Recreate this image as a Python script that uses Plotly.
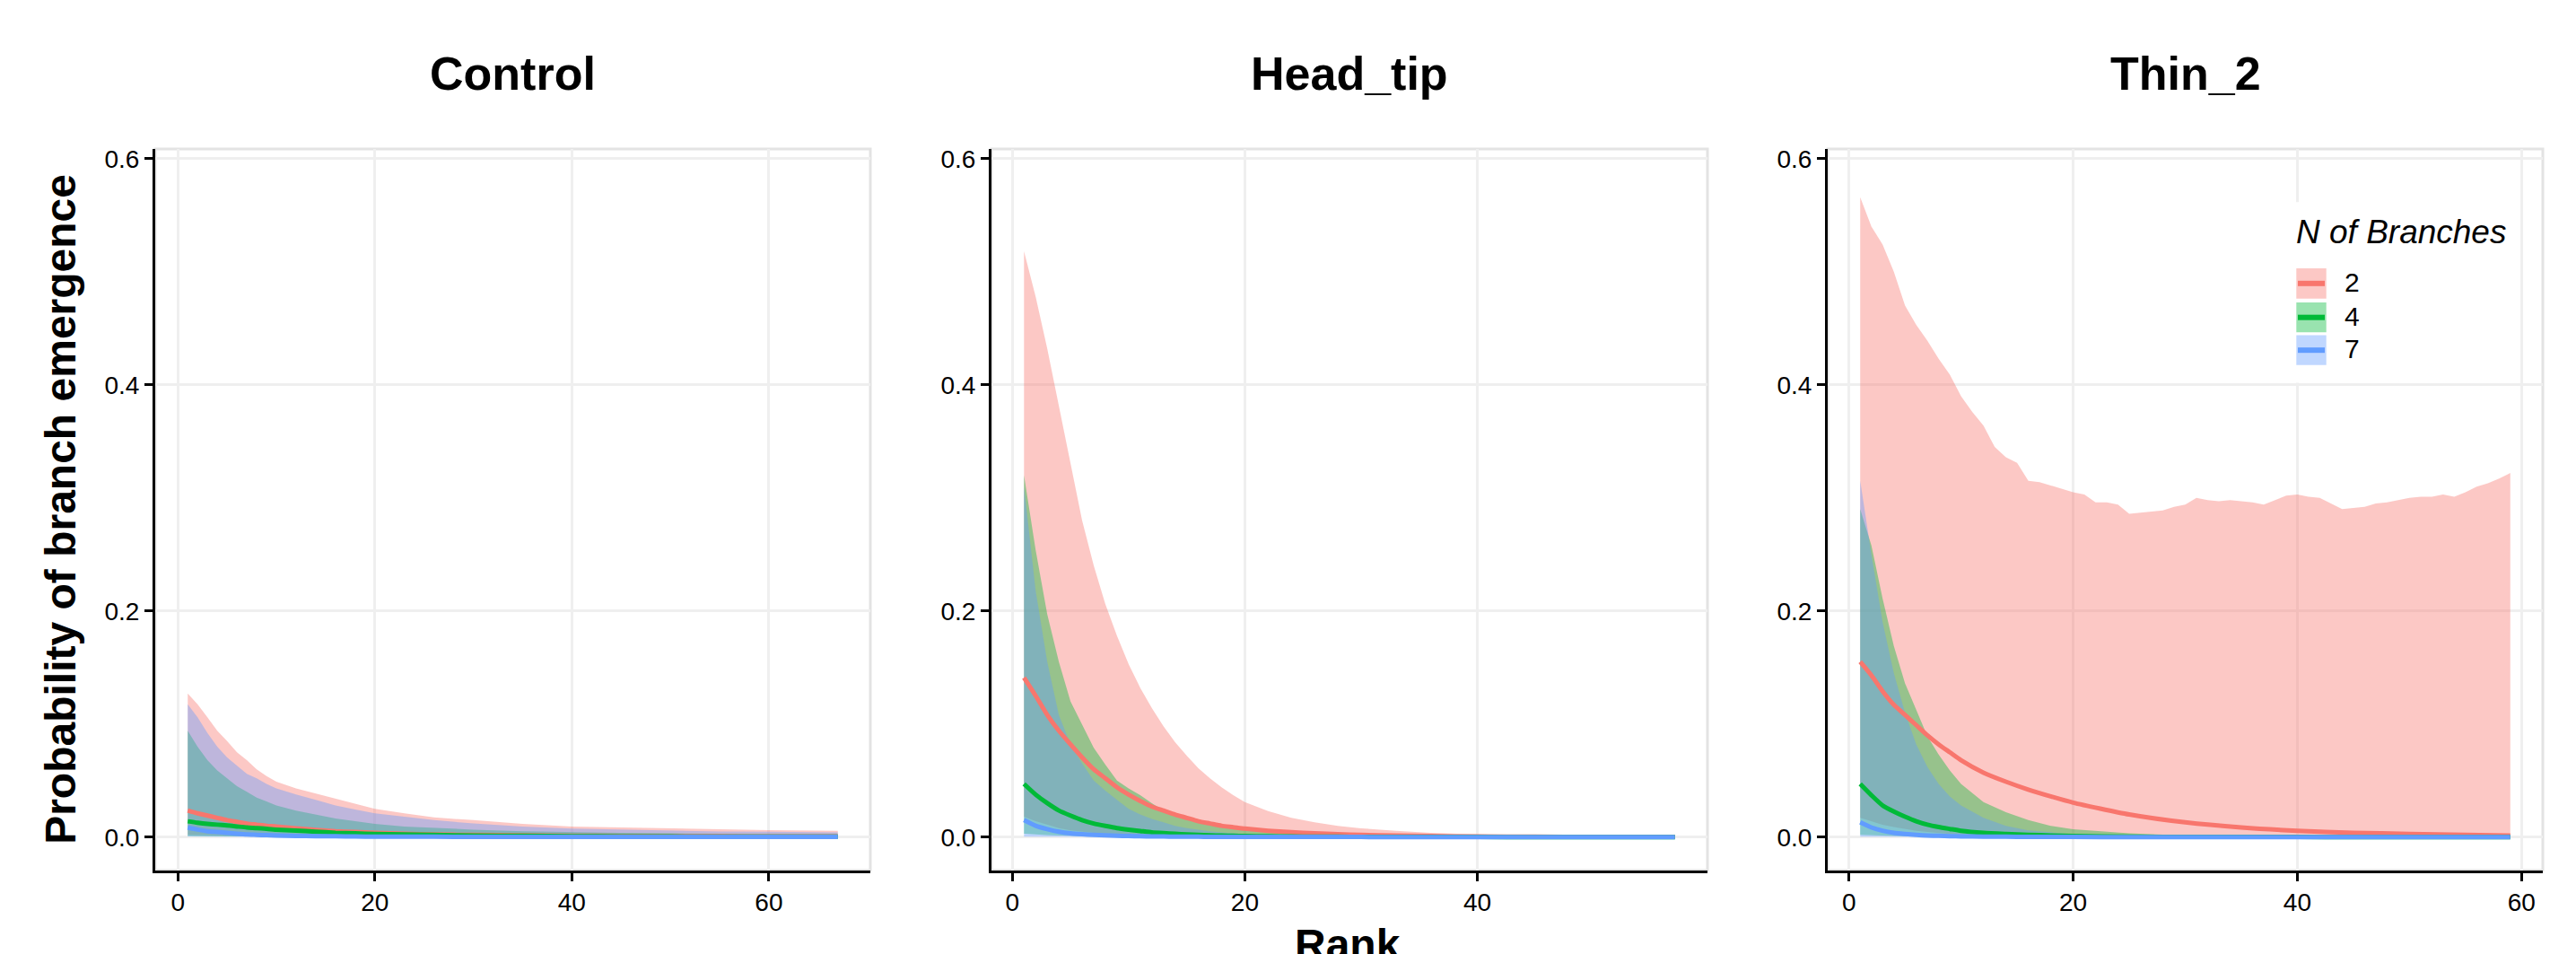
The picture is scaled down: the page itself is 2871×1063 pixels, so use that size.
import plotly.graph_objects as go

# ---------------- data ----------------
PANEL_TITLES = ["Control", "Head_tip", "Thin_2"]
GROUPS = ["2", "4", "7"]
LINE_COLORS = ["#F8766D", "#00BA38", "#619CFF"]
FILL_COLORS = ["rgba(248,118,109,0.4)", "rgba(0,186,56,0.4)", "rgba(97,156,255,0.4)"]
LEGEND_TITLE = "N of Branches"
X_TITLE = "Rank"
Y_TITLE = "Probability of branch emergence"
Y_TICKS = [0.0, 0.2, 0.4, 0.6]

# Control
CTRL_RANK = [1, 2, 3, 4, 5, 6, 7, 8, 9, 10, 12, 14, 16, 18, 20, 23, 26, 30, 35, 40, 45, 50, 55, 60, 67]
CTRL_MEAN_2 = [.0235, .021, .019, .017, .015, .0135, .012, .011, .010, .0094, .0078, .0064, .0052, .0045, .0038, .003, .0023, .0019, .0015, .0012, .001, .0008, .0007, .0006, .0005]
CTRL_MEAN_4 = [.014, .0127, .0117, .011, .0103, .0094, .0085, .008, .0073, .0066, .0057, .0048, .0038, .0033, .0028, .0023, .0019, .0014, .0011, .0008, .0006, .0005, .0004, .0004, .0003]
CTRL_MEAN_7 = [.0085, .0066, .0052, .0045, .0038, .003, .0023, .002, .0017, .0014, .001, .0008, .0007, .0005, .0004, .0003, .0003, .0002, .0002, .0001, .0001, .0001, .0001, .0001, .0001]
CTRL_UP_2 = [.127, .1175, .106, .094, .085, .075, .068, .060, .054, .049, .043, .0385, .034, .029, .025, .021, .0174, .015, .0117, .0094, .0085, .0075, .0066, .0061, .0056]
CTRL_UP_4 = [.094, .080, .068, .059, .052, .045, .040, .035, .0315, .028, .0235, .020, .0164, .014, .0117, .0094, .008, .0066, .0052, .0042, .0037, .0033, .003, .0028, .0023]
CTRL_UP_7 = [.1175, .106, .092, .080, .0705, .063, .056, .052, .047, .043, .0376, .033, .028, .0244, .021, .018, .015, .012, .0094, .0075, .0065, .0056, .005, .0047, .0042]
CTRL_LO_2 = [.002, .0018, .0016, .0014, .0012, .001, .0009, .0008, .0007, .0006, .0005, .0004, .0003, .0003, .0002, .0002, .0001, .0001, .0001, 0, 0, 0, 0, 0, 0]
CTRL_LO_4 = [.001, .0009, .0008, .0007, .0006, .0005, .0005, .0004, .0004, .0003, .0003, .0002, .0002, .0002, .0001, .0001, .0001, .0001, 0, 0, 0, 0, 0, 0, 0]
CTRL_LO_7 = [.0005, .0004, .0003, .0003, .0002, .0002, .0001, .0001, .0001, .0001, 0, 0, 0, 0, 0, 0, 0, 0, 0, 0, 0, 0, 0, 0, 0]

# Head_tip
HEAD_RANK = [1, 2, 3, 4, 5, 6, 7, 8, 9, 10, 11, 12, 13, 14, 15, 16, 17, 18, 19, 20, 22, 24, 26, 28, 30, 33, 36, 40, 45, 50, 57]
HEAD_MEAN_2 = [.141, .125, .108, .094, .082, .0705, .060, .052, .044, .0376, .032, .027, .0235, .020, .017, .014, .012, .010, .0088, .0075, .0056, .0043, .0033, .0025, .0019, .0013, .0009, .0005, .0003, .0002, .0001]
HEAD_MEAN_4 = [.047, .0376, .030, .0235, .019, .015, .012, .0099, .008, .0066, .0054, .0042, .0035, .0029, .0023, .0019, .0016, .0013, .0011, .0009, .0007, .0005, .0004, .0003, .0002, .0001, .0001, .0001, 0, 0, 0]
HEAD_MEAN_7 = [.015, .010, .007, .0047, .0033, .0025, .0019, .0015, .0012, .0009, .0007, .0006, .0005, .0004, .0003, .0003, .0002, .0002, .0002, .0001, .0001, .0001, .0001, .0001, .0001, 0, 0, 0, 0, 0, 0]
HEAD_UP_2 = [.518, .478, .432, .382, .330, .280, .240, .206, .178, .153, .132, .114, .098, .084, .072, .061, .052, .044, .037, .031, .023, .017, .013, .010, .0078, .0055, .0038, .0023, .0014, .0008, .0004]
HEAD_UP_4 = [.320, .254, .197, .155, .120, .099, .079, .064, .050, .043, .037, .030, .0235, .020, .017, .014, .012, .0094, .008, .007, .005, .0035, .0025, .0018, .0013, .0008, .0005, .0003, .0002, .0001, .0001]
HEAD_UP_7 = [.310, .218, .155, .108, .082, .065, .050, .041, .033, .025, .020, .016, .013, .010, .008, .0065, .0052, .0042, .0034, .0028, .0019, .0013, .0009, .0006, .0004, .0003, .0002, .0001, .0001, .0001, .0001]
HEAD_LO_2 = [.018, .014, .011, .008, .006, .0045, .0035, .0025, .0019, .0014, .0011, .0008, .0006, .0005, .0004, .0003, .0002, .0002, .0001, .0001, 0, 0, 0, 0, 0, 0, 0, 0, 0, 0, 0]
HEAD_LO_4 = [.003, .0024, .0018, .0013, .001, .0008, .0006, .0005, .0004, .0003, .0002, .0002, .0001, 0, 0, 0, 0, 0, 0, 0, 0, 0, 0, 0, 0, 0, 0, 0, 0, 0, 0]
HEAD_LO_7 = [.0004, .0003, .0002, .0001, 0, 0, 0, 0, 0, 0, 0, 0, 0, 0, 0, 0, 0, 0, 0, 0, 0, 0, 0, 0, 0, 0, 0, 0, 0, 0, 0]

# Thin_2
THIN_RANK = [1, 2, 3, 4, 5, 6, 7, 8, 9, 10, 12, 14, 16, 18, 20, 25, 30, 35, 40, 45, 50, 55, 59]
THIN_MEAN_2 = [.155, .143, .129, .117, .108, .099, .090, .082, .075, .068, .057, .049, .042, .036, .0305, .020, .013, .0085, .0056, .0038, .0028, .0019, .0014]
THIN_MEAN_4 = [.047, .037, .028, .0226, .018, .014, .011, .0089, .0072, .0056, .0038, .0028, .002, .0014, .0009, .0004, .0002, .0001, .0001, 0, 0, 0, 0]
THIN_MEAN_7 = [.013, .0085, .0056, .0038, .0028, .002, .0014, .0011, .0008, .0006, .0004, .0003, .0002, .0001, .0001, 0, 0, 0, 0, 0, 0, 0, 0]
THIN_UP_4 = [.290, .258, .211, .169, .136, .113, .089, .073, .059, .047, .031, .022, .015, .010, .007, .0033, .0014, .0008, .0004, .0003, .0002, .0001, .0001]
THIN_UP_7 = [.315, .25, .19, .145, .11, .082, .062, .047, .036, .028, .017, .010, .006, .004, .0025, .001, .0005, .0003, .0002, .0001, .0001, .0001, .0001]
THIN_LO_4 = [.002, .0016, .0012, .0009, .0007, .0005, .0004, .0003, .0002, .0002, .0001, .0001, 0, 0, 0, 0, 0, 0, 0, 0, 0, 0, 0]
THIN_LO_7 = [.0003, .0002, .0001, 0, 0, 0, 0, 0, 0, 0, 0, 0, 0, 0, 0, 0, 0, 0, 0, 0, 0, 0, 0]
THIN_RED_RANK = list(range(1, 60))
THIN_UP_2 = [.566, .540, .524, .500, .470, .453, .439, .423, .409, .390,
             .376, .364, .345, .336, .331, .315, .314, .311, .308, .305,
             .303, .296, .296, .294, .286, .287, .288, .289, .292, .294,
             .300, .298, .297, .298, .297, .296, .294, .298, .302, .303,
             .301, .300, .295, .290, .291, .292, .295, .296, .298, .300,
             .301, .301, .303, .301, .305, .310, .313, .317, .322]
THIN_LO_2 = [.017, .014, .011, .009, .007, .0055, .0045, .0035, .0028, .0023,
             .0019, .0016, .0013, .0011, .0009, .0008, .0006, .0005, .0004, .0003,
             .0003, .0002, .0002, .0002, .0002, .0001, .0001, .0001, .0001, .0001,
             .0001, .0001, .0001, .0001, .0001, 0, 0, 0, 0, 0,
             0, 0, 0, 0, 0, 0, 0, 0, 0, 0,
             0, 0, 0, 0, 0, 0, 0, 0, 0]

X_RANGES = [[-2.3, 70.3], [-1.8, 59.8], [-1.9, 61.9]]
Y_RANGE = [-0.0293, 0.6085]

# ---------------- layout geometry (pixels) ----------------
W, H = 2871, 1063
def px(x):
    return x / W
def py(y):
    return 1 - y / H

PANEL_X = [(173, 970), (1105, 1903), (2037, 2834)]
PANEL_TOP, PANEL_BOTTOM = 162.7, 969.3
FONT = "Liberation Sans, Arial, Helvetica, sans-serif"

panels = [
    dict(ribbons=[(CTRL_RANK, CTRL_LO_2, CTRL_UP_2), (CTRL_RANK, CTRL_LO_4, CTRL_UP_4), (CTRL_RANK, CTRL_LO_7, CTRL_UP_7)],
         lines=[(CTRL_RANK, CTRL_MEAN_2), (CTRL_RANK, CTRL_MEAN_4), (CTRL_RANK, CTRL_MEAN_7)]),
    dict(ribbons=[(HEAD_RANK, HEAD_LO_2, HEAD_UP_2), (HEAD_RANK, HEAD_LO_4, HEAD_UP_4), (HEAD_RANK, HEAD_LO_7, HEAD_UP_7)],
         lines=[(HEAD_RANK, HEAD_MEAN_2), (HEAD_RANK, HEAD_MEAN_4), (HEAD_RANK, HEAD_MEAN_7)]),
    dict(ribbons=[(THIN_RED_RANK, THIN_LO_2, THIN_UP_2), (THIN_RANK, THIN_LO_4, THIN_UP_4), (THIN_RANK, THIN_LO_7, THIN_UP_7)],
         lines=[(THIN_RANK, THIN_MEAN_2), (THIN_RANK, THIN_MEAN_4), (THIN_RANK, THIN_MEAN_7)]),
]

fig = go.Figure()

for i, p in enumerate(panels):
    xa = "x" if i == 0 else f"x{i+1}"
    ya = "y" if i == 0 else f"y{i+1}"
    for g, (r, lo, up) in enumerate(p["ribbons"]):
        fig.add_trace(go.Scatter(
            x=list(r) + list(r)[::-1], y=list(up) + list(lo)[::-1],
            fill="toself", fillcolor=FILL_COLORS[g], line=dict(width=0),
            mode="lines", hoverinfo="skip", showlegend=False, xaxis=xa, yaxis=ya))
    for g, (r, m) in enumerate(p["lines"]):
        fig.add_trace(go.Scatter(
            x=r, y=m, mode="lines", name=GROUPS[g],
            line=dict(color=LINE_COLORS[g], width=5, shape="spline", smoothing=0.6),
            showlegend=False, xaxis=xa, yaxis=ya))

axis_common = dict(
    showgrid=True, gridcolor="#EFEFEF", gridwidth=3, zeroline=False,
    showline=True, linecolor="black", linewidth=3, mirror=False,
    ticks="outside", ticklen=9, tickwidth=3, tickcolor="black",
    tickfont=dict(family=FONT, size=28, color="black"),
)

layout = dict(
    width=W, height=H, margin=dict(l=0, r=0, t=0, b=0),
    paper_bgcolor="white", plot_bgcolor="white", showlegend=False,
)
shapes = []
annotations = []
for i in range(3):
    sfx = "" if i == 0 else str(i + 1)
    x0, x1 = PANEL_X[i]
    layout["xaxis" + sfx] = dict(
        axis_common, domain=[px(x0), px(x1)], range=X_RANGES[i],
        tickvals=[0, 20, 40, 60], tickformat="d", anchor="y" + sfx)
    layout["yaxis" + sfx] = dict(
        axis_common, domain=[py(PANEL_BOTTOM), py(PANEL_TOP)], range=Y_RANGE,
        tickvals=Y_TICKS, tickformat=".1f", anchor="x" + sfx)
    shapes.append(dict(type="rect", xref="paper", yref="paper",
                       x0=px(x0), x1=px(x1), y0=py(PANEL_BOTTOM), y1=py(PANEL_TOP),
                       line=dict(color="#E3E3E3", width=3), layer="below"))
    annotations.append(dict(text=PANEL_TITLES[i], xref="paper", yref="paper",
                            x=px((x0 + x1) / 2), y=py(78), xanchor="center", yanchor="middle",
                            showarrow=False, font=dict(family=FONT, size=52, color="black", weight="bold")))

annotations.append(dict(text=Y_TITLE, xref="paper", yref="paper", x=px(68),
                        y=py((PANEL_TOP + PANEL_BOTTOM) / 2), textangle=-90,
                        xanchor="center", yanchor="middle", showarrow=False,
                        font=dict(family=FONT, size=48, color="black", weight="bold")))
annotations.append(dict(text=X_TITLE, xref="paper", yref="paper", x=px(1502), y=py(1024),
                        xanchor="center", yanchor="top", showarrow=False,
                        font=dict(family=FONT, size=48, color="black", weight="bold")))

# legend (drawn inside the Thin_2 panel)
shapes.append(dict(type="rect", xref="paper", yref="paper", x0=px(2544), x1=px(2806),
                   y0=py(424), y1=py(222), fillcolor="white", line=dict(width=0), layer="above"))
annotations.append(dict(text=LEGEND_TITLE, xref="paper", yref="paper", x=px(2557), y=py(255),
                        xanchor="left", yanchor="middle", showarrow=False,
                        font=dict(family=FONT, size=37, color="black", style="italic")))
key_rows = [(296, 330), (334.3, 367.7), (371, 404.3)]
for g, (t, b) in enumerate(key_rows):
    shapes.append(dict(type="rect", xref="paper", yref="paper", x0=px(2559.3), x1=px(2592.7),
                       y0=py(b), y1=py(t), fillcolor=FILL_COLORS[g], line=dict(width=0), layer="above"))
    cy = (t + b) / 2
    shapes.append(dict(type="line", xref="paper", yref="paper", x0=px(2561), x1=px(2591),
                       y0=py(cy), y1=py(cy), line=dict(color=LINE_COLORS[g], width=6), layer="above"))
    annotations.append(dict(text=GROUPS[g], xref="paper", yref="paper", x=px(2611), y=py(cy - 1.5),
                            xanchor="left", yanchor="middle", showarrow=False,
                            font=dict(family=FONT, size=30, color="black")))

layout["shapes"] = shapes
layout["annotations"] = annotations
fig.update_layout(**layout)

fig.write_html("out.html", config={"displayModeBar": False},
               post_script="document.body.style.margin='0px';document.body.style.overflow='hidden';")
